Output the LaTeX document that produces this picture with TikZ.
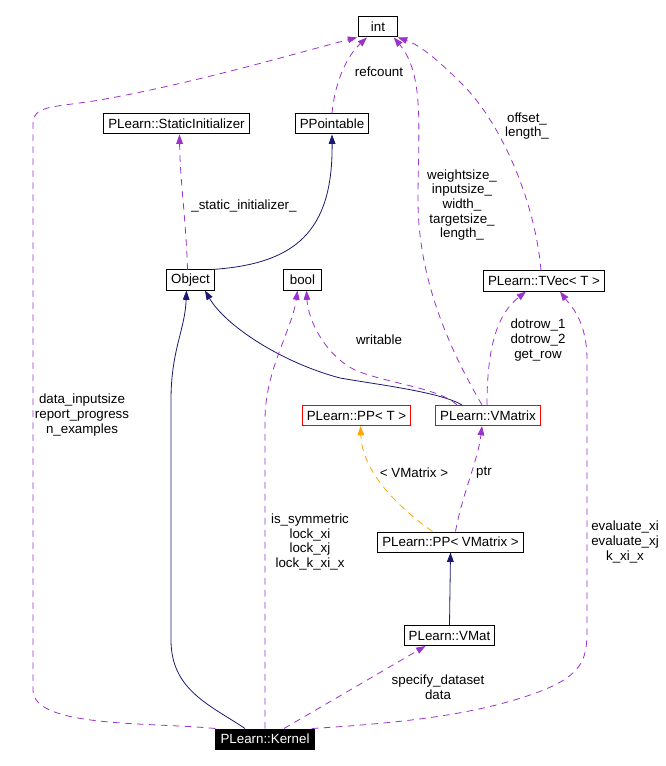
\documentclass[tikz,border=0pt]{standalone}
\usepackage{fontspec}
\setmainfont{Liberation Sans}
\usetikzlibrary{arrows.meta,calc}
\definecolor{edgepurple}{HTML}{9A32CD}
\definecolor{edgenavy}{HTML}{191970}
\definecolor{edgeorange}{HTML}{FFA500}
\tikzset{
  cls/.style={draw=black, line width=0.75pt, minimum height=15pt, minimum width=29pt,
    inner xsep=3.5pt, inner ysep=0pt, font=\fontsize{10pt}{11pt}\selectfont},
  hot/.style={cls, draw=red},
  cur/.style={cls, fill=black, text=white},
  lab/.style={align=center, inner sep=0pt, font=\fontsize{10pt}{11pt}\selectfont},
  use/.style={draw=edgepurple, line width=0.6pt, dash pattern=on 5pt off 4pt,
    -{Triangle[length=7pt,width=5pt]}},
  inh/.style={draw=edgenavy, line width=0.6pt, -{Triangle[length=7pt,width=5pt]}},
  tpl/.style={draw=edgeorange, line width=0.6pt, dash pattern=on 5pt off 4pt,
    -{Triangle[length=7pt,width=5pt]}}
}
\begin{document}
\begin{tikzpicture}[x=0.75pt,y=-0.75pt]
    \useasboundingbox (0,0) rectangle (666,766);
    \node[cls] (int) at (378,27) {int};
    \node[cls] (static) at (176.5,124) {PLearn::StaticInitializer};
    \node[cls] (ppoint) at (332,124) {PPointable};
    \node[cls] (obj) at (190.5,280) {Object};
    \node[cls] (bool) at (302.5,280) {bool};
    \node[cls] (tvec) at (544,281) {PLearn::TVec< T >};
    \node[hot] (ppt) at (356.5,415.5) {PLearn::PP< T >};
    \node[hot] (vmatrix) at (488,415.5) {PLearn::VMatrix};
    \node[cls] (ppvm) at (450.5,542) {PLearn::PP< VMatrix >};
    \node[cls] (vmat) at (449.5,635.5) {PLearn::VMat};
    \node[cur] (kernel) at (265,739) {PLearn::Kernel};

    \draw[use] (kernel.north west) .. controls (150,722) and (33,728) .. (33,690) -- (33,125)
      .. controls (33,105) and (50,108) .. (100,100) .. controls (200,82) and (300,52) .. ($(int.south west)+(-1,0)$);
    \draw[use] ($(obj.north)+(-3,0)$) .. controls (186,220) and (180,180) .. ($(static.south)+(3,0)$);
    \draw[inh] ($(obj.north east)+(-3,0)$) .. controls (295,264) and (333,232) .. (ppoint.south);
    \draw[inh] ($(kernel.north)+(-20,0)$) .. controls (210,705) and (171,690) .. (171,640) -- (171,400)
      .. controls (171,350) and (185,330) .. ($(obj.south)+(-4,0)$);
    \draw[inh] ($(vmatrix.north west)+(27,0)$) .. controls (440,392) and (380,385) .. (340,378)
      .. controls (280,362) and (225,325) .. ($(obj.south east)+(-10,0)$);
    \draw[use] ($(vmatrix.north west)+(22,0)$) .. controls (440,388) and (385,383) .. (355,370)
      .. controls (325,355) and (308,320) .. ($(bool.south)+(4,0)$);
    \draw[use] (kernel.north) -- (265,420) .. controls (265,370) and (292,330) .. ($(bool.south)+(-5,0)$);
    \draw[use] (ppoint.north) .. controls (335,80) and (348,55) .. ($(int.south)+(-11,0)$);
    \draw[use] ($(vmatrix.north)+(-6,0)$) .. controls (450,350) and (418,280) .. (418,200)
      .. controls (418,130) and (425,75) .. ($(int.south east)+(-4,0)$);
    \draw[use] ($(tvec.north)+(-3,0)$) .. controls (535,200) and (500,120) .. (460,82)
      .. controls (440,62) and (420,45) .. (int.south east);
    \draw[use] ($(vmatrix.north)+(-1,0)$) .. controls (487,340) and (500,312) .. ($(tvec.south)+(-18,0)$);
    \draw[use] ($(kernel.north east)+(-3,0)$) .. controls (420,722) and (480,712) .. (530,695)
      .. controls (583,677) and (587,660) .. (587,630) -- (587,360)
      .. controls (587,320) and (570,305) .. ($(tvec.south)+(16,0)$);
    \draw[tpl] ($(ppvm.north)+(-18,0)$) .. controls (395,505) and (362,470) .. ($(ppt.south)+(4,0)$);
    \draw[use] ($(ppvm.north)+(5,0)$) .. controls (462,495) and (478,460) .. ($(vmatrix.south)+(-6,0)$);
    \draw[inh] (vmat.north) -- (ppvm.south);
    \draw[use] ($(kernel.north)+(19,0)$) -- ($(vmat.south)+(-24,0)$);

    \node[lab] (lkernelint) at (82,415) {data\_inputsize\\report\_progress\\n\_examples};
    \node[lab] (lstatic) at (244,206) {\_static\_initializer\_};
    \node[lab] (lrefcount) at (379,72) {refcount};
    \node[lab] (lwritable) at (379,340) {writable};
    \node[lab] (lvmint) at (462,205) {weightsize\_\\inputsize\_\\width\_\\targetsize\_\\length\_};
    \node[lab] (ltvecint) at (527,126) {offset\_\\length\_};
    \node[lab] (ldotrow) at (538,340) {dotrow\_1\\dotrow\_2\\get\_row};
    \node[lab] (lbool) at (310,542) {is\_symmetric\\lock\_xi\\lock\_xj\\lock\_k\_xi\_x};
    \node[lab] (leval) at (625,542) {evaluate\_xi\\evaluate\_xj\\k\_xi\_x};
    \node[lab] (ltpl) at (414,473) {< VMatrix >};
    \node[lab] (lptr) at (484,473) {ptr};
    \node[lab] (lvmat) at (438,687) {specify\_dataset\\data};
\end{tikzpicture}
\end{document}
